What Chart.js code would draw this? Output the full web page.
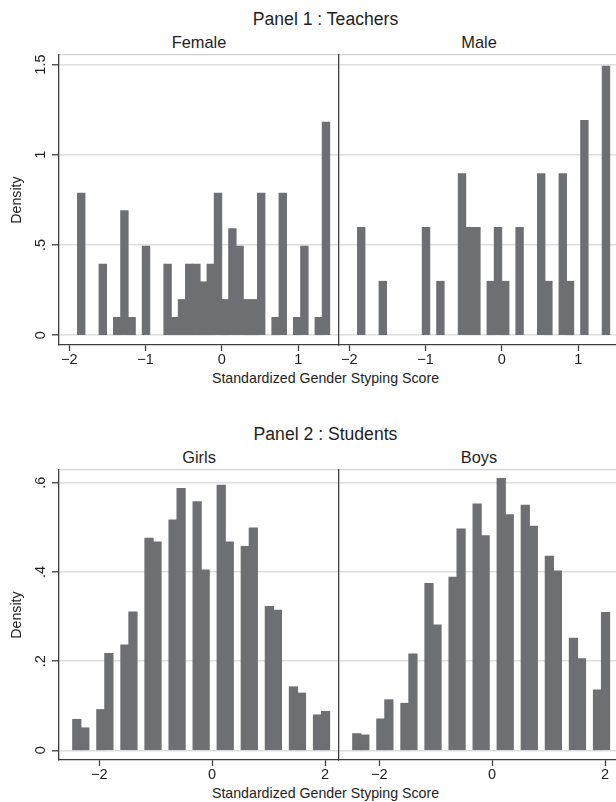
<!DOCTYPE html>
<html>
<head>
<meta charset="utf-8">
<title>Gender Styping Score</title>
<script src="https://cdn.jsdelivr.net/npm/chart.js"></script>
<style>
  html, body { margin: 0; padding: 0; background: #fff; overflow: hidden; }
  body { width: 616px; height: 802px; position: relative; font-family: 'Liberation Sans', Arial, sans-serif; color: #1e1e1e; }
  canvas { position: absolute; }
  .txt { position: absolute; width: 400px; text-align: center; line-height: 1; white-space: nowrap; }
</style>
</head>
<body>
  <div class="txt" style="left:125.5px; top:11.1px; font-size:17.6px">Panel 1 : Teachers</div>
  <div class="txt" style="left:-1px; top:34.4px; font-size:16.4px">Female</div>
  <div class="txt" style="left:279px; top:34.4px; font-size:16.4px">Male</div>
  <div class="txt" style="left:125.5px; top:371.3px; font-size:14.2px">Standardized Gender Styping Score</div>

  <div class="txt" style="left:125.5px; top:426.1px; font-size:17.6px">Panel 2 : Students</div>
  <div class="txt" style="left:-1px; top:449.4px; font-size:16.4px">Girls</div>
  <div class="txt" style="left:279px; top:449.4px; font-size:16.4px">Boys</div>
  <div class="txt" style="left:125.5px; top:786.3px; font-size:14.2px">Standardized Gender Styping Score</div>

  <canvas id="female" width="339" height="322" style="left:0; top:50px"></canvas>
  <canvas id="male" width="290" height="322" style="left:329px; top:50px"></canvas>
  <canvas id="girls" width="339" height="322" style="left:0; top:465px"></canvas>
  <canvas id="boys" width="290" height="322" style="left:329px; top:465px"></canvas>

  <script>
    // histogram bins (same bins for both panels of a row)
    var teacherBinStart = -1.89;
    var teacherBinWidth = 0.0943;
    var studentBinStart = -2.47;
    var studentBinWidth = 0.1422;

    // density per bin
    var femaleDensity = [0.787, 0, 0, 0.393, 0, 0.098, 0.689, 0.098, 0, 0.492,
      0, 0, 0.393, 0.098, 0.197, 0.393, 0.393, 0.295, 0.393, 0.787,
      0.197, 0.590, 0.492, 0.197, 0.197, 0.787, 0, 0.098, 0.787, 0,
      0.098, 0.492, 0, 0.098, 1.18];
    var maleDensity = [0.596, 0, 0, 0.298, 0, 0, 0, 0, 0, 0.596,
      0, 0.298, 0, 0, 0.894, 0.596, 0.596, 0, 0.298, 0.596,
      0.298, 0, 0.596, 0, 0, 0.894, 0.298, 0, 0.894, 0.298,
      0, 1.19, 0, 0, 1.49];
    var girlsDensity = [0.069, 0.050, 0, 0.091, 0.217, 0, 0.236, 0.310, 0, 0.475,
      0.467, 0, 0.516, 0.587, 0, 0.557, 0.404, 0, 0.594, 0.467,
      0, 0.457, 0.498, 0, 0.322, 0.314, 0, 0.142, 0.128, 0,
      0.079, 0.087];
    var boysDensity = [0.037, 0.034, 0, 0.070, 0.113, 0, 0.105, 0.216, 0, 0.374,
      0.281, 0, 0.388, 0.496, 0, 0.552, 0.481, 0, 0.609, 0.528,
      0, 0.549, 0.502, 0, 0.435, 0.402, 0, 0.251, 0.205, 0,
      0.135, 0.309];

    // axes
    var teacherXRange = [-2.134, 1.534];
    var teacherYRange = [-0.054, 1.553];
    var teacherXTicks = [-2, -1, 0, 1];
    var teacherYTicks = [0, 0.5, 1, 1.5];
    var teacherYLabels = ['0', '.5', '1', '1.5'];

    var studentXRange = [-2.714, 2.248];
    var studentYRange = [-0.0217, 0.6285];
    var studentXTicks = [-2, 0, 2];
    var studentYTicks = [0, 0.2, 0.4, 0.6];
    var studentYLabels = ['0', '.2', '.4', '.6'];

    var BAR = '#6e6f73';
    var GRID = '#dedede';
    var AXIS = '#3d3d3d';
    var TEXT = '#1e1e1e';

    Chart.defaults.font.family = "'Liberation Sans', Arial, sans-serif";

    function fmtX(v) {
      return v < 0 ? '\u2212' + Math.abs(v) : String(v);
    }

    function makePanel(id, density, binStart, binWidth, xRange, yRange, xTicks, yTicks, yLabels, isLeft, yPad) {
      var points = density.map(function (d, i) {
        return { x: binStart + (i + 0.5) * binWidth, y: d === 0 ? null : d };
      });

      new Chart(document.getElementById(id), {
        type: 'bar',
        data: {
          datasets: [{
            data: points,
            backgroundColor: BAR,
            borderWidth: 0,
            categoryPercentage: 1,
            barPercentage: 1,
            inflateAmount: 0.6
          }]
        },
        options: {
          responsive: false,
          animation: false,
          layout: { padding: 0, autoPadding: false },
          plugins: { legend: { display: false }, tooltip: { enabled: false } },
          scales: {
            x: {
              type: 'linear',
              offset: false,
              min: xRange[0],
              max: xRange[1],
              afterBuildTicks: function (s) {
                s.ticks = xTicks.map(function (v) { return { value: v }; });
              },
              afterFit: function (s) {
                s.height = 27;
                s.paddingLeft = 0;
                s.paddingRight = 0;
              },
              grid: { offset: false, drawOnChartArea: false, drawTicks: true, tickLength: 6, tickColor: AXIS, tickWidth: 1.3 },
              border: { color: AXIS, width: 1.3 },
              ticks: { padding: 0, maxRotation: 0, autoSkip: false, color: TEXT, font: { size: 14.5 }, callback: fmtX }
            },
            x2: {
              axis: 'x',
              type: 'linear',
              position: 'top',
              afterFit: function (s) { s.height = 5; },
              grid: { display: false },
              ticks: { display: false },
              border: { color: '#d4d4d4', width: 1.2 }
            },
            y: {
              min: yRange[0],
              max: yRange[1],
              afterBuildTicks: function (s) {
                s.ticks = yTicks.map(function (v) { return { value: v }; });
              },
              afterFit: function (s) {
                s.width = isLeft ? 59 : 10;
                // rotated labels must not push the plot area down
                s.paddingTop = 0;
                s.paddingBottom = 0;
              },
              grid: { color: GRID, lineWidth: 1.6, drawTicks: isLeft, tickLength: 7, tickColor: AXIS, tickWidth: 1.3 },
              border: { color: AXIS, width: 1.3 },
              title: { display: isLeft, text: 'Density', color: TEXT, font: { size: 14.2 }, padding: { top: 9, bottom: 0 } },
              ticks: {
                display: isLeft,
                minRotation: 90,
                maxRotation: 90,
                crossAlign: 'center',
                padding: yPad,
                color: TEXT,
                font: { size: 14.5 },
                callback: function (v) { return yLabels[yTicks.indexOf(v)]; }
              }
            }
          }
        }
      });
    }

    makePanel('female', femaleDensity, teacherBinStart, teacherBinWidth, teacherXRange, teacherYRange,
      teacherXTicks, teacherYTicks, teacherYLabels, true, 1.4);
    makePanel('male', maleDensity, teacherBinStart, teacherBinWidth, teacherXRange, teacherYRange,
      teacherXTicks, teacherYTicks, teacherYLabels, false, 0);
    makePanel('girls', girlsDensity, studentBinStart, studentBinWidth, studentXRange, studentYRange,
      studentXTicks, studentYTicks, studentYLabels, true, 5.4);
    makePanel('boys', boysDensity, studentBinStart, studentBinWidth, studentXRange, studentYRange,
      studentXTicks, studentYTicks, studentYLabels, false, 0);
  </script>
</body>
</html>
